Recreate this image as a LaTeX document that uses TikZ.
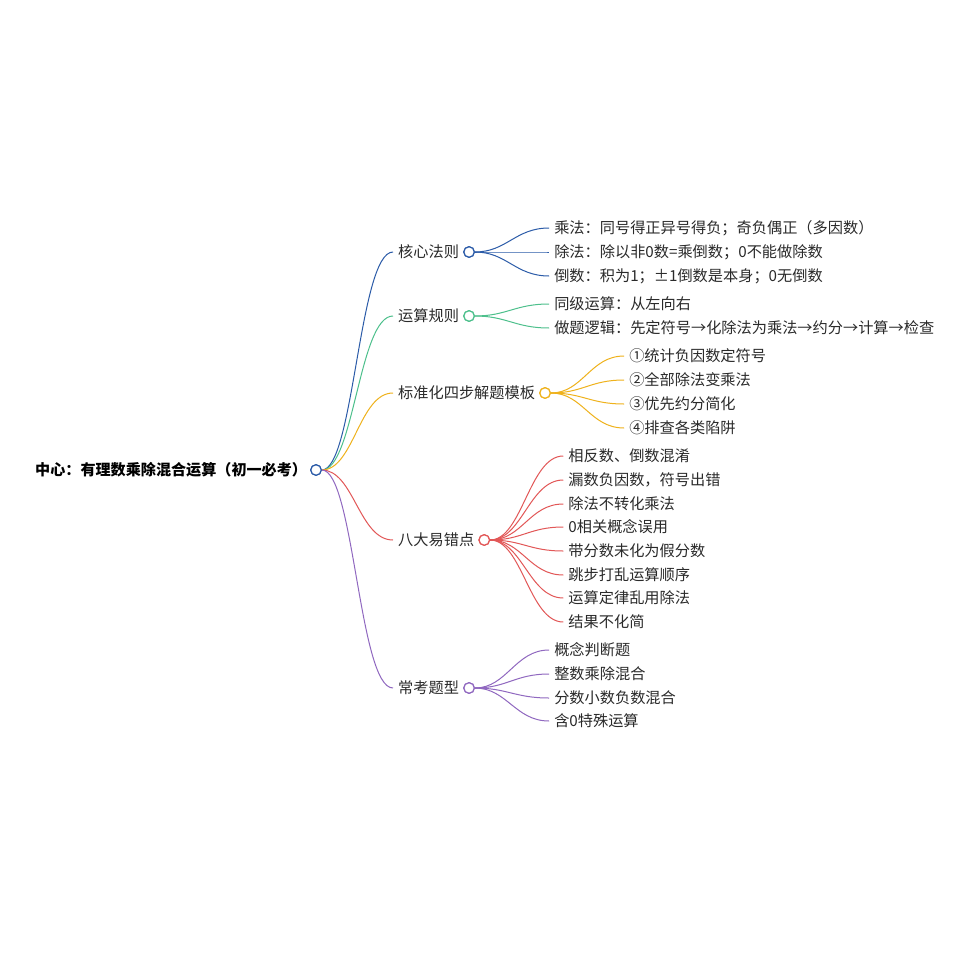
\documentclass[tikz,border=0pt]{standalone}
\usepackage{fontspec}
\setmainfont{Noto Sans CJK SC}
\usetikzlibrary{positioning}
\definecolor{cblue}{HTML}{2B5BA8}
\definecolor{cgreen}{HTML}{4DC08C}
\definecolor{cyellow}{HTML}{EFB21C}
\definecolor{cred}{HTML}{E25757}
\definecolor{cpurple}{HTML}{9068C0}
\definecolor{ctext}{HTML}{2A2A2A}
\tikzset{
  txt/.style={anchor=west,inner sep=0pt,text=ctext,font=\fontsize{15.2}{17}\selectfont},
  roottxt/.style={anchor=west,inner sep=0pt,text=black,font=\fontsize{15.1}{17}\selectfont\bfseries},
  dot/.style={circle,draw=#1,fill=white,line width=1.2pt,minimum size=10.5pt,inner sep=0pt},
  con/.style={draw=#1,line width=1pt},
}
\newcommand{\link}[3]{\draw[con=#3] (#1.east) .. controls +(32,0) and +(-34,0) .. ([xshift=-5pt]#2.west);}
\begin{document}
\begin{tikzpicture}[x=1pt,y=-1pt]
\useasboundingbox[fill=white] (0,0) rectangle (960,960);
% root
\node[roottxt] (root) at (35,470) {中心：有理数乘除混合运算（初一必考）};
\node[dot=cblue] (rc) at (316,470) {};
% branch texts
\node[txt] (b1) at (398,252) {核心法则};
\node[txt] (b2) at (398,316) {运算规则};
\node[txt] (b3) at (398,393) {标准化四步解题模板};
\node[txt] (b4) at (398,540) {八大易错点};
\node[txt] (b5) at (398,688) {常考题型};
\node[dot=cblue,right=4pt of b1] (c1) {};
\node[dot=cgreen,right=4pt of b2] (c2) {};
\node[dot=cyellow,right=4pt of b3] (c3) {};
\node[dot=cred,right=4pt of b4] (c4) {};
\node[dot=cpurple,right=4pt of b5] (c5) {};
% children of b1
\node[txt] (a1) at ([xshift=85pt]c1.center |- 0,228) {乘法：同号得正异号得负；奇负偶正（多因数）};
\node[txt] (a2) at ([xshift=85pt]c1.center |- 0,252) {除法：除以非0数=乘倒数；0不能做除数};
\node[txt] (a3) at ([xshift=85pt]c1.center |- 0,276) {倒数：积为1；±1倒数是本身；0无倒数};
% children of b2
\node[txt] (d1) at ([xshift=85pt]c2.center |- 0,304) {同级运算：从左向右};
\node[txt] (d2) at ([xshift=85pt]c2.center |- 0,328) {做题逻辑：先定符号→化除法为乘法→约分→计算→检查};
% children of b3
\node[txt] (e1) at ([xshift=84pt]c3.center |- 0,356) {①统计负因数定符号};
\node[txt] (e2) at ([xshift=84pt]c3.center |- 0,380) {②全部除法变乘法};
\node[txt] (e3) at ([xshift=84pt]c3.center |- 0,404) {③优先约分简化};
\node[txt] (e4) at ([xshift=84pt]c3.center |- 0,428) {④排查各类陷阱};
% children of b4
\node[txt] (f1) at ([xshift=84pt]c4.center |- 0,456) {相反数、倒数混淆};
\node[txt] (f2) at ([xshift=84pt]c4.center |- 0,480) {漏数负因数，符号出错};
\node[txt] (f3) at ([xshift=84pt]c4.center |- 0,504) {除法不转化乘法};
\node[txt] (f4) at ([xshift=84pt]c4.center |- 0,527) {0相关概念误用};
\node[txt] (f5) at ([xshift=84pt]c4.center |- 0,551) {带分数未化为假分数};
\node[txt] (f6) at ([xshift=84pt]c4.center |- 0,575) {跳步打乱运算顺序};
\node[txt] (f7) at ([xshift=84pt]c4.center |- 0,598) {运算定律乱用除法};
\node[txt] (f8) at ([xshift=84pt]c4.center |- 0,622) {结果不化简};
% children of b5
\node[txt] (g1) at ([xshift=85pt]c5.center |- 0,650) {概念判断题};
\node[txt] (g2) at ([xshift=85pt]c5.center |- 0,674) {整数乘除混合};
\node[txt] (g3) at ([xshift=85pt]c5.center |- 0,698) {分数小数负数混合};
\node[txt] (g4) at ([xshift=85pt]c5.center |- 0,721) {含0特殊运算};
% connectors
\link{rc}{b1}{cblue}
\link{rc}{b2}{cgreen}
\link{rc}{b3}{cyellow}
\link{rc}{b4}{cred}
\link{rc}{b5}{cpurple}
\foreach \n in {a1,a2,a3}{\link{c1}{\n}{cblue}}
\foreach \n in {d1,d2}{\link{c2}{\n}{cgreen}}
\foreach \n in {e1,e2,e3,e4}{\link{c3}{\n}{cyellow}}
\foreach \n in {f1,f2,f3,f4,f5,f6,f7,f8}{\link{c4}{\n}{cred}}
\foreach \n in {g1,g2,g3,g4}{\link{c5}{\n}{cpurple}}
% redraw dots on top
\node[dot=cblue] at (rc) {};
\node[dot=cblue] at (c1) {};
\node[dot=cgreen] at (c2) {};
\node[dot=cyellow] at (c3) {};
\node[dot=cred] at (c4) {};
\node[dot=cpurple] at (c5) {};
\end{tikzpicture}
\end{document}
